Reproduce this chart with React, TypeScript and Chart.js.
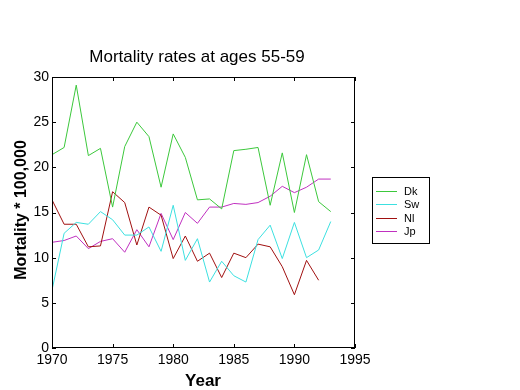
import React, { useEffect, useRef } from "react";
import { Chart, registerables } from "chart.js";

Chart.register(...registerables);

const years = [1970, 1971, 1972, 1973, 1974, 1975, 1976, 1977, 1978, 1979, 1980, 1981, 1982, 1983, 1984, 1985, 1986, 1987, 1988, 1989, 1990, 1991, 1992, 1993];
const dk = [21.4, 22.2, 29.1, 21.3, 22.1, 15.6, 22.3, 25.0, 23.4, 17.8, 23.7, 21.1, 16.4, 16.5, 15.4, 21.85, 22.0, 22.2, 15.8, 21.6, 15.0, 21.4, 16.2, 15.1];
const sw = [6.4, 12.7, 13.9, 13.7, 15.1, 14.2, 12.5, 12.5, 13.4, 10.7, 15.8, 9.7, 12.1, 7.3, 9.6, 8.0, 7.3, 12.0, 13.6, 9.9, 13.9, 10.0, 10.85, 14.0];
const nl = [16.4, 13.7, 13.7, 11.2, 11.3, 17.3, 16.1, 11.4, 15.6, 14.7, 9.9, 12.4, 9.6, 10.5, 7.8, 10.5, 10.0, 11.5, 11.2, 9.0, 5.9, 9.7, 7.5];
const jp = [11.7, 11.9, 12.4, 11.0, 11.8, 12.1, 10.6, 13.1, 11.2, 14.9, 12.0, 15.0, 13.8, 15.6, 15.6, 16.0, 15.9, 16.1, 16.8, 17.9, 17.2, 17.8, 18.7, 18.7];
const seriesLabels = ["Dk", "Sw", "Nl", "Jp"];
const seriesColors = ["#3cc83c", "#3ce0e0", "#a01010", "#c030c0"];
const titleText = "Mortality rates at ages 55-59";
const xTitle = "Year";
const yTitle = "Mortality * 100,000";

const FONT = "Arial, 'Liberation Sans', sans-serif";

const decor = {
  id: "decor",
  afterDraw(chart: any) {
    const ctx = chart.ctx;
    const a = chart.chartArea;
    const xs = chart.scales.x;
    const ys = chart.scales.y;
    ctx.save();
    ctx.strokeStyle = "#000";
    ctx.lineWidth = 1;
    ctx.strokeRect(Math.round(a.left) + 0.5, Math.round(a.top) + 0.5, Math.round(a.right - a.left) - 1, Math.round(a.bottom - a.top) - 1);
    const tl = 4;
    ctx.beginPath();
    xs.ticks.forEach((t: any) => {
      const px = Math.round(xs.getPixelForValue(t.value)) + 0.5;
      ctx.moveTo(px, a.bottom);
      ctx.lineTo(px, a.bottom - tl);
      ctx.moveTo(px, a.top);
      ctx.lineTo(px, a.top + tl);
    });
    ys.ticks.forEach((t: any) => {
      const py = Math.round(ys.getPixelForValue(t.value)) + 0.5;
      ctx.moveTo(a.left, py);
      ctx.lineTo(a.left + tl, py);
      ctx.moveTo(a.right, py);
      ctx.lineTo(a.right - tl, py);
    });
    ctx.stroke();

    ctx.fillStyle = "#000";
    ctx.textAlign = "center";
    ctx.textBaseline = "alphabetic";
    ctx.font = `17px ${FONT}`;
    ctx.fillText(titleText, 197, 62);
    ctx.font = `bold 17px ${FONT}`;
    ctx.fillText(xTitle, 203, 386);
    ctx.save();
    ctx.translate(26, 210);
    ctx.rotate(-Math.PI / 2);
    ctx.font = `bold 16px ${FONT}`;
    ctx.fillText(yTitle, 0, 0);
    ctx.restore();

    // legend
    ctx.strokeRect(372.5, 177.5, 57, 66);
    ctx.font = `11px ${FONT}`;
    ctx.textAlign = "left";
    ctx.textBaseline = "middle";
    chart.data.datasets.forEach((ds: any, i: number) => {
      const y = Math.round(190.5 + i * 13.6) + 0.5;
      ctx.strokeStyle = ds.borderColor;
      ctx.beginPath();
      ctx.moveTo(376, y);
      ctx.lineTo(397, y);
      ctx.stroke();
      ctx.fillStyle = "#000";
      ctx.fillText(ds.label, 404, y + 0.5);
    });
    ctx.restore();
  },
};

export default function App() {
  const ref = useRef<HTMLCanvasElement>(null);
  useEffect(() => {
    document.body.style.margin = "0";
    const all = [dk, sw, nl, jp];
    const chart = new Chart(ref.current!, {
      type: "line",
      data: {
        datasets: all.map((vals, i) => ({
          label: seriesLabels[i],
          data: vals.map((v, j) => ({ x: years[j], y: v })),
          borderColor: seriesColors[i],
          backgroundColor: seriesColors[i],
          borderWidth: 1,
          pointRadius: 0,
          tension: 0,
          fill: false,
        })),
      },
      options: {
        responsive: false,
        animation: false,
        layout: { padding: { top: 77, right: 165, left: 0, bottom: 0 } },
        plugins: {
          legend: { display: false },
          title: { display: false },
          tooltip: { enabled: false },
        },
        scales: {
          x: {
            type: "linear",
            min: 1970,
            max: 1995,
            ticks: {
              stepSize: 5,
              color: "#000",
              padding: 4,
              font: { family: FONT, size: 14 },
              callback: (v: any) => String(v),
              maxRotation: 0,
            },
            grid: { display: false, drawTicks: false },
            border: { display: false },
            afterFit: (s: any) => {
              s.height = 42;
            },
          },
          y: {
            min: 0,
            max: 30,
            ticks: {
              stepSize: 5,
              color: "#000",
              padding: 3,
              font: { family: FONT, size: 14 },
              callback: (v: any) => String(v),
            },
            grid: { display: false, drawTicks: false },
            border: { display: false },
            afterFit: (s: any) => {
              s.width = 52;
            },
          },
        },
      },
      plugins: [decor],
    });
    return () => chart.destroy();
  }, []);
  return (
    <div style={{ width: 520, height: 390, background: "#fff" }}>
      <canvas ref={ref} width={520} height={390} style={{ display: "block" }} />
    </div>
  );
}
